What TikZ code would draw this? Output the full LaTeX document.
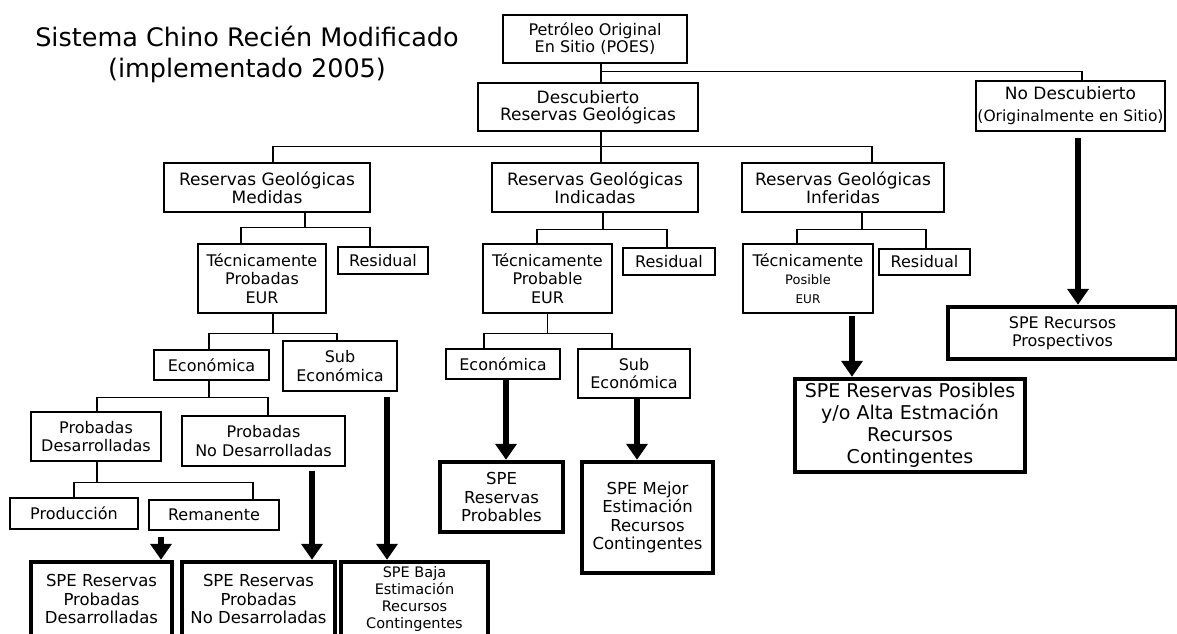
\documentclass[tikz,border=0pt]{standalone}
\usepackage{fontspec}
\setmainfont{DejaVu Sans}
\usetikzlibrary{arrows.meta}

\begin{document}
\begin{tikzpicture}[x=1pt, y=-1pt,
        caja/.style={draw, line width=1.2pt, align=center, inner sep=0pt,
            font=\fontsize{16}{18.5}\selectfont},
        spe/.style={draw, line width=4.5pt, align=center, inner sep=0pt,
            font=\fontsize{16.5}{18.5}\selectfont},
        rama/.style={line width=1.2pt},
        flecha/.style={line width=6pt, -{Triangle[width=21pt, length=16pt]}}
    ]
        \useasboundingbox[fill=white] (0,0) rectangle (1177,633);

        \node[font=\fontsize{25.5}{31}\selectfont, align=center] (titulo) at (247,54.5)
            {Sistema Chino Recién Modificado\\(implementado 2005)};

        % niveles superiores
        \node[caja, font=\fontsize{16}{17}\selectfont, minimum width=184, minimum height=48] (poes) at (595,39) {Petróleo Original\\En Sitio (POES)};
        \node[caja, font=\fontsize{17}{17}\selectfont, minimum width=220, minimum height=48] (desc) at (588,107) {Descubierto\\Reservas Geológicas};
        \node[caja, font=\fontsize{15.5}{22}\selectfont, minimum width=189, minimum height=50] (nodesc) at (1070.5,106) {{\fontsize{17}{22}\selectfont No Descubierto}\\(Originalmente en Sitio)};

        \node[caja, font=\fontsize{17}{18}\selectfont, minimum width=206, minimum height=49] (med) at (267,187.5) {Reservas Geológicas\\Medidas};
        \node[caja, font=\fontsize{17}{18}\selectfont, minimum width=206, minimum height=49] (ind) at (595,187.5) {Reservas Geológicas\\Indicadas};
        \node[caja, font=\fontsize{17}{18}\selectfont, minimum width=202, minimum height=49] (inf) at (843,187.5) {Reservas Geológicas\\Inferidas};

        \node[caja, minimum width=128, minimum height=69] (tpMed) at (262,278.5) {Técnicamente\\Probadas\\EUR};
        \node[caja, minimum width=90, minimum height=27] (resMed) at (383,260.5) {Residual};
        \node[caja, minimum width=129, minimum height=69] (tpInd) at (547.5,278.5) {Técnicamente\\Probable\\EUR};
        \node[caja, minimum width=92, minimum height=27] (resInd) at (669,261.5) {Residual};
        \node[caja, minimum width=130, minimum height=69] (tpInf) at (808,278.5) {Técnicamente\\{\fontsize{13}{16.5}\selectfont Posible}\\{\fontsize{12}{16.5}\selectfont EUR}};
        \node[caja, minimum width=91, minimum height=26] (resInf) at (924.5,262) {Residual};

        % economica / sub economica
        \node[caja, minimum width=115, minimum height=30] (ecoMed) at (211.5,365) {Económica};
        \node[caja, minimum width=114, minimum height=50] (subMed) at (340,366) {Sub\\Económica};
        \node[caja, minimum width=114, minimum height=30] (ecoInd) at (503,364) {Económica};
        \node[caja, minimum width=112, minimum height=49] (subInd) at (634,373.5) {Sub\\Económica};

        \node[caja, minimum width=130, minimum height=49] (pd) at (96,436.5) {Probadas\\Desarrolladas};
        \node[caja, minimum width=163, minimum height=50] (pnd) at (263.5,441) {Probadas\\No Desarrolladas};
        \node[caja, minimum width=128, minimum height=31] (prod) at (74,513.5) {Producción};
        \node[caja, minimum width=130, minimum height=30] (rem) at (214,515) {Remanente};

        % categorias SPE
        \node[spe, minimum width=141, minimum height=74] (speA) at (101.5,599) {SPE Reservas\\Probadas\\Desarrolladas};
        \node[spe, minimum width=153, minimum height=74] (speB) at (258.5,599) {SPE Reservas\\Probadas\\No Desarroladas};
        \node[spe, font=\fontsize{14.5}{16.7}\selectfont, minimum width=147, minimum height=74] (speC) at (414.5,599) {SPE Baja\\Estimación\\Recursos\\Contingentes};
        \node[spe, minimum width=123, minimum height=70] (speD) at (501.5,497) {SPE\\Reservas\\Probables};
        \node[spe, minimum width=131, minimum height=111] (speE) at (647.5,517.5) {SPE Mejor\\Estimación\\Recursos\\Contingentes};
        \node[spe, font=\fontsize{19}{22}\selectfont, minimum width=230, minimum height=93] (speF) at (910,425.5) {SPE Reservas Posibles\\y/o Alta Estmación\\Recursos\\Contingentes};
        \node[spe, font=\fontsize{16}{18}\selectfont, minimum width=229, minimum height=52] (speG) at (1062.5,333) {SPE Recursos\\Prospectivos};

        % ramas
        \draw[rama] ([xshift=6]poes.south) -- ([xshift=13]desc.north);
        \draw[rama] ([xshift=6]poes.south) ++(0,8) -| ([xshift=11.5]nodesc.north);

        \draw[rama] ([xshift=13]desc.south) -- ([xshift=6]ind.north);
        \draw[rama] ([xshift=13]desc.south) ++(0,15) -| ([xshift=6]med.north);
        \draw[rama] ([xshift=13]desc.south) ++(0,15) -| ([xshift=29]inf.north);

        \draw[rama] ([xshift=38]med.south) -- ++(0,15) -| ([xshift=-21]tpMed.north);
        \draw[rama] ([xshift=38]med.south) ++(0,15) -| ([xshift=-13]resMed.north);
        \draw[rama] ([xshift=8]ind.south) -- ++(0,17) -| ([xshift=-10.5]tpInd.north);
        \draw[rama] ([xshift=8]ind.south) ++(0,17) -| ([xshift=-2]resInd.north);
        \draw[rama] ([xshift=19]inf.south) -- ++(0,17) -| ([xshift=-11]tpInf.north);
        \draw[rama] ([xshift=19]inf.south) ++(0,17) -| ([xshift=1.5]resInf.north);

        \draw[rama] ([xshift=11]tpMed.south) -- ++(0,20) -| ([xshift=-2.5]ecoMed.north);
        \draw[rama] ([xshift=11]tpMed.south) ++(0,20) -| ([xshift=-3]subMed.north);
        \draw[rama] (tpInd.south) -- ++(0,20) -| ([xshift=-19]ecoInd.north);
        \draw[rama] (tpInd.south) ++(0,20) -| ([xshift=-22]subInd.north);

        \draw[rama] ([xshift=-2.5]ecoMed.south) -- ++(0,17) -| ([xshift=1]pd.north);
        \draw[rama] ([xshift=-2.5]ecoMed.south) ++(0,17) -| ([xshift=4.5]pnd.north);
        \draw[rama] ([xshift=1]pd.south) -- ++(0,21) -| (prod.north);
        \draw[rama] ([xshift=1]pd.south) ++(0,21) -| ([xshift=39]rem.north);

        % flechas gruesas
        \draw[flecha, shorten <=6pt] ([xshift=-53]rem.south) -- ([xshift=59.5]speA.north);
        \draw[flecha, shorten <=4pt] ([xshift=48.5]pnd.south) -- ([xshift=53.5]speB.north);
        \draw[flecha, shorten <=5pt] ([xshift=47]subMed.south) -- ([xshift=-27.5]speC.north);
        \draw[flecha] ([xshift=3]ecoInd.south) -- ([xshift=4.5]speD.north);
        \draw[flecha] ([xshift=3]subInd.south) -- ([xshift=-10.5]speE.north);
        \draw[flecha, shorten <=2pt] ([xshift=44]tpInf.south) -- ([xshift=-58]speF.north);
        \draw[flecha, shorten <=6pt] ([xshift=7.5]nodesc.south) -- ([xshift=15.5]speG.north);
    \end{tikzpicture}
\end{document}
